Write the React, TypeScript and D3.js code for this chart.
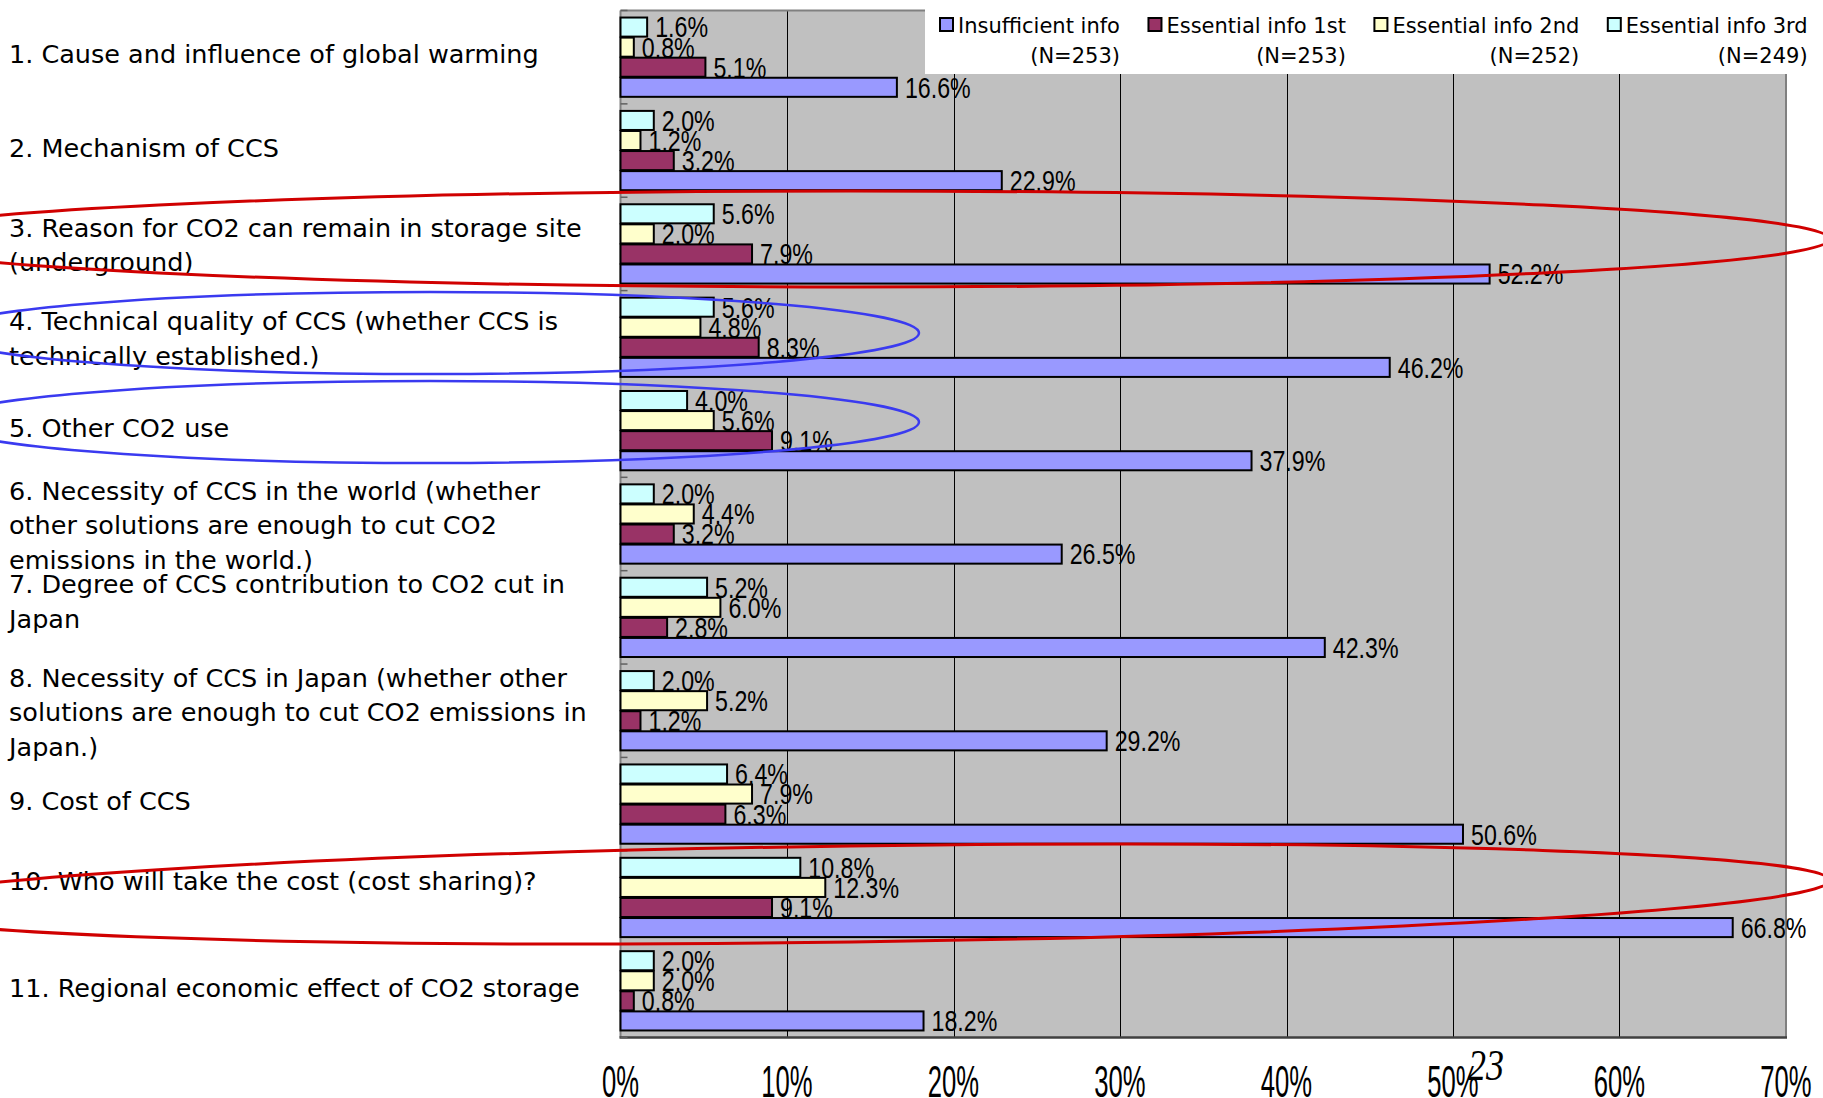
import React, { useEffect, useRef } from "react";
import * as d3 from "d3";

// Survey items (wrapped as they appear on the axis; "" is an empty trailing line)
const categories: string[][] = [
  ["1. Cause and influence of global warming"],
  ["2. Mechanism of CCS"],
  ["3. Reason for CO2 can remain in storage site", "(underground)"],
  ["4. Technical quality of CCS (whether CCS is", "technically established.)"],
  ["5. Other CO2 use"],
  ["6. Necessity of CCS in the world (whether", "other solutions are enough to cut CO2", "emissions in the world.)"],
  ["7. Degree of CCS contribution to CO2 cut in", "Japan", ""],
  ["8. Necessity of CCS in Japan (whether other", "solutions are enough to cut CO2 emissions in", "Japan.)"],
  ["9. Cost of CCS"],
  ["10. Who will take the cost (cost sharing)?", ""],
  ["11. Regional economic effect of CO2 storage"],
];

// Percent of respondents per item
const insufficientInfo = [16.6, 22.9, 52.2, 46.2, 37.9, 26.5, 42.3, 29.2, 50.6, 66.8, 18.2];
const essentialInfo1st = [5.1, 3.2, 7.9, 8.3, 9.1, 3.2, 2.8, 1.2, 6.3, 9.1, 0.8];
const essentialInfo2nd = [0.8, 1.2, 2.0, 4.8, 5.6, 4.4, 6.0, 5.2, 7.9, 12.3, 2.0];
const essentialInfo3rd = [1.6, 2.0, 5.6, 5.6, 4.0, 2.0, 5.2, 2.0, 6.4, 10.8, 2.0];

const seriesNames = ["Insufficient info", "Essential info 1st", "Essential info 2nd", "Essential info 3rd"];
const seriesN = ["(N=253)", "(N=253)", "(N=252)", "(N=249)"];
const seriesColors = ["#9999FF", "#993366", "#FFFFCC", "#CCFFFF"];

const xTicks = [0, 10, 20, 30, 40, 50, 60, 70];
const pageNumber = "23";

const W = 1823;
const H = 1098;

export default function App() {
  const ref = useRef<SVGSVGElement | null>(null);

  useEffect(() => {
    const svg = d3.select(ref.current);
    svg.selectAll("*").remove();

    const plot = { left: 620.5, right: 1786, top: 10.5, bottom: 1037.5 };

    const x = d3.scaleLinear().domain([0, 70]).range([plot.left, plot.right]);
    const y = d3
      .scaleBand<number>()
      .domain(d3.range(categories.length))
      .range([plot.top, plot.bottom])
      .paddingInner(0.14)
      .paddingOuter(0.07);

    // stacking order inside a group: 3rd at the top, insufficient at the bottom
    const seriesValues = [insufficientInfo, essentialInfo1st, essentialInfo2nd, essentialInfo3rd];
    const drawOrder = [3, 2, 1, 0];
    const yInner = d3
      .scaleBand<number>()
      .domain(drawOrder)
      .range([0, y.bandwidth()])
      .padding(0);

    // plot background
    svg
      .append("rect")
      .attr("x", plot.left)
      .attr("y", plot.top)
      .attr("width", plot.right - plot.left)
      .attr("height", plot.bottom - plot.top)
      .attr("fill", "#C0C0C0");

    // vertical gridlines
    svg
      .append("g")
      .selectAll("line")
      .data(xTicks.slice(1, -1))
      .join("line")
      .attr("x1", (d) => Math.round(x(d)) + 0.5)
      .attr("x2", (d) => Math.round(x(d)) + 0.5)
      .attr("y1", plot.top)
      .attr("y2", plot.bottom)
      .attr("stroke", "#000")
      .attr("stroke-width", 1);

    // plot frame
    const frame = svg.append("g");
    frame
      .append("line")
      .attr("x1", plot.left)
      .attr("x2", plot.right)
      .attr("y1", plot.top)
      .attr("y2", plot.top)
      .attr("stroke", "#808080")
      .attr("stroke-width", 2);
    frame
      .append("line")
      .attr("x1", plot.right)
      .attr("x2", plot.right)
      .attr("y1", plot.top)
      .attr("y2", plot.bottom)
      .attr("stroke", "#808080")
      .attr("stroke-width", 2);
    frame
      .append("line")
      .attr("x1", plot.left)
      .attr("x2", plot.left)
      .attr("y1", plot.top)
      .attr("y2", plot.bottom)
      .attr("stroke", "#808080")
      .attr("stroke-width", 2);
    frame
      .append("line")
      .attr("x1", plot.left - 1)
      .attr("x2", plot.right + 1)
      .attr("y1", plot.bottom)
      .attr("y2", plot.bottom)
      .attr("stroke", "#404040")
      .attr("stroke-width", 2.5);

    // category boundary ticks
    const step = y.step();
    svg
      .append("g")
      .selectAll("line")
      .data(d3.range(categories.length + 1))
      .join("line")
      .attr("x1", plot.left)
      .attr("x2", plot.left + 7)
      .attr("y1", (i) => plot.top + i * step)
      .attr("y2", (i) => plot.top + i * step)
      .attr("stroke", "#606060")
      .attr("stroke-width", 1.5);

    // bars
    const bars = svg.append("g");
    categories.forEach((_, ci) => {
      const g0 = y(ci)!;
      drawOrder.forEach((si) => {
        const v = seriesValues[si][ci];
        const by = g0 + yInner(si)!;
        bars
          .append("rect")
          .attr("x", x(0))
          .attr("y", by + 0.5)
          .attr("width", x(v) - x(0))
          .attr("height", yInner.bandwidth() - 1)
          .attr("fill", seriesColors[si])
          .attr("stroke", "#000")
          .attr("stroke-width", 2);
      });
    });

    // value labels
    const valFont = 29;
    const labels = svg.append("g");
    categories.forEach((_, ci) => {
      const g0 = y(ci)!;
      drawOrder.forEach((si) => {
        const v = seriesValues[si][ci];
        const cy = g0 + yInner(si)! + yInner.bandwidth() / 2;
        labels
          .append("text")
          .attr("transform", `translate(${x(v) + 8},${cy + 0.358 * valFont}) scale(0.8,1)`)
          .attr("font-family", "'Liberation Sans', Arial, sans-serif")
          .attr("font-size", valFont)
          .attr("fill", "#000")
          .text(`${v.toFixed(1)}%`);
      });
    });

    // category labels
    const catFont = 25.5;
    const lineGap = 34.5;
    const cap = 0.729 * catFont;
    const catG = svg.append("g");
    categories.forEach((lines, ci) => {
      const shift = lines.length > 1 ? 1 : -3;
      const center = y(ci)! + y.bandwidth() / 2 + shift;
      const first = center - ((lines.length - 1) * lineGap) / 2 + cap / 2;
      lines.forEach((ln, li) => {
        if (!ln) return;
        catG
          .append("text")
          .attr("x", 9)
          .attr("y", first + li * lineGap)
          .attr("font-family", "'DejaVu Sans', sans-serif")
          .attr("font-size", catFont)
          .attr("fill", "#000")
          .text(ln);
      });
    });

    // x tick labels
    svg
      .append("g")
      .selectAll("text")
      .data(xTicks)
      .join("text")
      .attr("transform", (d) => `translate(${x(d)},1097) scale(0.57,1)`)
      .attr("text-anchor", "middle")
      .attr("font-family", "'Liberation Sans', Arial, sans-serif")
      .attr("font-size", 45)
      .attr("fill", "#000")
      .text((d) => `${d}%`);

    // legend
    const lg = svg.append("g");
    lg.append("rect")
      .attr("x", 925)
      .attr("y", 0)
      .attr("width", W - 925)
      .attr("height", 74)
      .attr("fill", "#fff");
    let lx = 939;
    seriesNames.forEach((name, si) => {
      lg.append("rect")
        .attr("x", lx + 1)
        .attr("y", 18)
        .attr("width", 13)
        .attr("height", 13)
        .attr("fill", seriesColors[si])
        .attr("stroke", "#000")
        .attr("stroke-width", 2);
      const t = lg
        .append("text")
        .attr("x", lx + 19)
        .attr("y", 33)
        .attr("font-family", "'DejaVu Sans', sans-serif")
        .attr("font-size", 21)
        .attr("fill", "#000")
        .text(name);
      const tw = (t.node() as SVGTextElement).getComputedTextLength();
      const end = lx + 19 + tw;
      lg.append("text")
        .attr("x", end)
        .attr("y", 63)
        .attr("text-anchor", "end")
        .attr("font-family", "'DejaVu Sans', sans-serif")
        .attr("font-size", 21)
        .attr("fill", "#000")
        .text(seriesN[si]);
      lx = end + 27.5;
    });

    // hand-drawn highlight rings
    const rings = [
      { cx: 851, cy: 239, rx: 979, ry: 48, rot: 0, color: "#D00000", w: 3 },
      { cx: 430, cy: 333, rx: 489, ry: 41, rot: 0, color: "#3A3AF0", w: 2.5 },
      { cx: 430, cy: 422, rx: 489, ry: 41, rot: 0, color: "#3A3AF0", w: 2.5 },
      { cx: 851, cy: 894, rx: 979, ry: 48, rot: -0.8, color: "#D00000", w: 3 },
    ];
    svg
      .append("g")
      .selectAll("ellipse")
      .data(rings)
      .join("ellipse")
      .attr("transform", (d) => `rotate(${d.rot},${d.cx},${d.cy})`)
      .attr("cx", (d) => d.cx)
      .attr("cy", (d) => d.cy)
      .attr("rx", (d) => d.rx)
      .attr("ry", (d) => d.ry)
      .attr("fill", "none")
      .attr("stroke", (d) => d.color)
      .attr("stroke-width", (d) => d.w);

    // page number
    svg
      .append("text")
      .attr("transform", "translate(1468,1080) scale(0.8,1)")
      .attr("font-family", "'Liberation Serif', serif")
      .attr("font-style", "italic")
      .attr("font-size", 45)
      .attr("fill", "#000")
      .text(pageNumber);
  }, []);

  return (
    <svg
      ref={ref}
      width={W}
      height={H}
      style={{ position: "absolute", left: 0, top: 0, display: "block", background: "#fff" }}
    />
  );
}
